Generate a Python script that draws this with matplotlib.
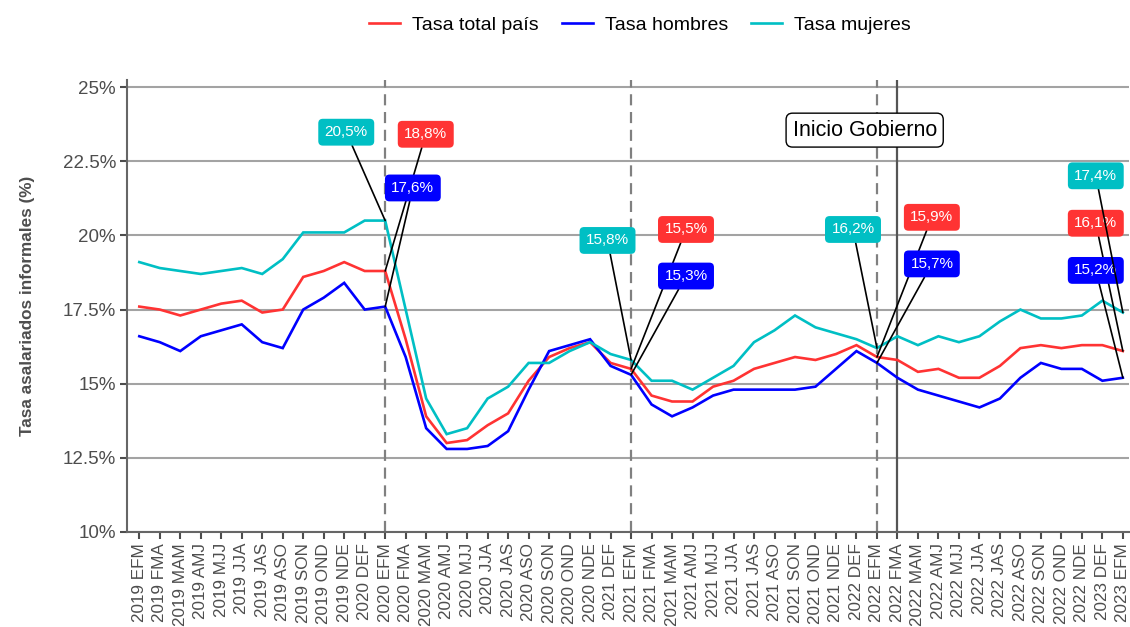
import matplotlib
matplotlib.use("Agg")
import matplotlib.pyplot as plt
from matplotlib.lines import Line2D

plt.rcParams['font.family'] = ['Liberation Sans', 'DejaVu Sans']

# ---------------- data ----------------
periods = (["2019 " + m for m in ["EFM", "FMA", "MAM", "AMJ", "MJJ", "JJA", "JAS", "ASO", "SON", "OND", "NDE"]]
           + ["2020 DEF"]
           + ["2020 " + m for m in ["EFM", "FMA", "MAM", "AMJ", "MJJ", "JJA", "JAS", "ASO", "SON", "OND", "NDE"]]
           + ["2021 DEF"]
           + ["2021 " + m for m in ["EFM", "FMA", "MAM", "AMJ", "MJJ", "JJA", "JAS", "ASO", "SON", "OND", "NDE"]]
           + ["2022 DEF"]
           + ["2022 " + m for m in ["EFM", "FMA", "MAM", "AMJ", "MJJ", "JJA", "JAS", "ASO", "SON", "OND", "NDE"]]
           + ["2023 DEF", "2023 EFM"])

tasa_total = [17.6, 17.5, 17.3, 17.5, 17.7, 17.8, 17.4, 17.5, 18.6, 18.8, 19.1, 18.8, 18.8,
              16.5, 13.9, 13.0, 13.1, 13.6, 14.0, 15.1, 15.9, 16.2, 16.4, 15.7, 15.5,
              14.6, 14.4, 14.4, 14.9, 15.1, 15.5, 15.7, 15.9, 15.8, 16.0, 16.3, 15.9,
              15.8, 15.4, 15.5, 15.2, 15.2, 15.6, 16.2, 16.3, 16.2, 16.3, 16.3, 16.1]

tasa_hombres = [16.6, 16.4, 16.1, 16.6, 16.8, 17.0, 16.4, 16.2, 17.5, 17.9, 18.4, 17.5, 17.6,
                15.9, 13.5, 12.8, 12.8, 12.9, 13.4, 14.8, 16.1, 16.3, 16.5, 15.6, 15.3,
                14.3, 13.9, 14.2, 14.6, 14.8, 14.8, 14.8, 14.8, 14.9, 15.5, 16.1, 15.7,
                15.2, 14.8, 14.6, 14.4, 14.2, 14.5, 15.2, 15.7, 15.5, 15.5, 15.1, 15.2]

tasa_mujeres = [19.1, 18.9, 18.8, 18.7, 18.8, 18.9, 18.7, 19.2, 20.1, 20.1, 20.1, 20.5, 20.5,
                17.5, 14.5, 13.3, 13.5, 14.5, 14.9, 15.7, 15.7, 16.1, 16.4, 16.0, 15.8,
                15.1, 15.1, 14.8, 15.2, 15.6, 16.4, 16.8, 17.3, 16.9, 16.7, 16.5, 16.2,
                16.6, 16.3, 16.6, 16.4, 16.6, 17.1, 17.5, 17.2, 17.2, 17.3, 17.8, 17.4]

series_names = ["Tasa total país", "Tasa hombres", "Tasa mujeres"]
y_ticks = [10, 12.5, 15, 17.5, 20, 22.5, 25]
y_tick_labels = ["10%", "12.5%", "15%", "17.5%", "20%", "22.5%", "25%"]
dashed_periods = ["2020 EFM", "2021 EFM", "2022 EFM"]
gobierno_period = "2022 FMA"
gobierno_text = "Inicio Gobierno"
label_periods = ["2020 EFM", "2021 EFM", "2022 EFM", "2023 EFM"]

# ---------------- style / layout ----------------
colors = ["#FF3333", "#0000FF", "#00BFC4"]
# label box centre positions (x index, y value) for each labelled period & series
label_pos = {
    ("2020 EFM", 0): (13.98, 23.41), ("2020 EFM", 1): (13.35, 21.60), ("2020 EFM", 2): (10.10, 23.48),
    ("2021 EFM", 0): (26.68, 20.20), ("2021 EFM", 1): (26.68, 18.63), ("2021 EFM", 2): (22.85, 19.83),
    ("2022 EFM", 0): (38.68, 20.61), ("2022 EFM", 1): (38.68, 19.04), ("2022 EFM", 2): (34.83, 20.20),
    ("2023 EFM", 0): (46.68, 20.41), ("2023 EFM", 1): (46.68, 18.82), ("2023 EFM", 2): (46.68, 22.01),
}

W, H = 1130, 627
fig = plt.figure(figsize=(W / 100, H / 100), dpi=100)
ax = fig.add_axes([127 / W, 1 - 532 / H, (1129 - 127) / W, (532 - 80) / H])

x = list(range(len(periods)))
data = [tasa_total, tasa_hombres, tasa_mujeres]

for yt in y_ticks:
    ax.axhline(yt, color="#A3A3A3", lw=1.5, zorder=1)

for p in dashed_periods:
    ax.axvline(periods.index(p), color="#808080", lw=1.6, ls=(0, (5, 3)), zorder=2)
ax.axvline(periods.index(gobierno_period), color="#555555", lw=1.6, zorder=2)

for vals, c, name in zip(data, colors, series_names):
    ax.plot(x, vals, color=c, lw=1.9, zorder=3, solid_joinstyle="miter", label=name)

# value labels
for p in label_periods:
    i = periods.index(p)
    for s in range(3):
        v = data[s][i]
        txt = f"{v:.1f}".replace(".", ",") + "%"
        lx, ly = label_pos[(p, s)]
        ax.annotate(txt, xy=(i, v), xytext=(lx, ly), textcoords="data",
                    ha="center", va="center", color="white", fontsize=11, zorder=6,
                    bbox=dict(boxstyle="round,pad=0.42,rounding_size=0.3", fc=colors[s], ec="none"),
                    arrowprops=dict(arrowstyle="-", color="black", lw=1.2, shrinkA=0, shrinkB=0),
                    annotation_clip=False)

ax.text(periods.index(gobierno_period) - 1.6, 23.55, gobierno_text, ha="center", va="center",
        fontsize=15.5, color="black", zorder=7,
        bbox=dict(boxstyle="round,pad=0.3,rounding_size=0.3", fc="white", ec="black", lw=1.0))

ax.set_xlim(-0.6, 48.3)
ax.set_ylim(10, 25.24)
ax.set_yticks(y_ticks)
ax.set_yticklabels(y_tick_labels)
ax.set_xticks(x)
ax.set_xticklabels(periods, rotation=90)

for side in ["top", "right"]:
    ax.spines[side].set_visible(False)
for side in ["left", "bottom"]:
    ax.spines[side].set_color("#666666")
    ax.spines[side].set_linewidth(1.5)

ax.tick_params(axis="y", labelsize=13.5, colors="#4D4D4D", length=5, width=1.5, pad=3)
ax.tick_params(axis="x", labelsize=12.3, colors="#4D4D4D", length=5, width=1.5, pad=3)
for lab in ax.get_xticklabels() + ax.get_yticklabels():
    lab.set_color("#4D4D4D")

ax.set_ylabel("Tasa asalariados informales (%)", fontsize=12.3, fontweight="bold", color="#4D4D4D", labelpad=20)

handles = [Line2D([0], [0], color=c, lw=1.9) for c in colors]
fig.legend(handles, series_names, loc="center", bbox_to_anchor=(640 / W, 1 - 25 / H),
           ncol=3, frameon=False, fontsize=14, handlelength=1.6, columnspacing=1.2, handletextpad=0.6)

fig.savefig("out.png", dpi=100, facecolor="white")
